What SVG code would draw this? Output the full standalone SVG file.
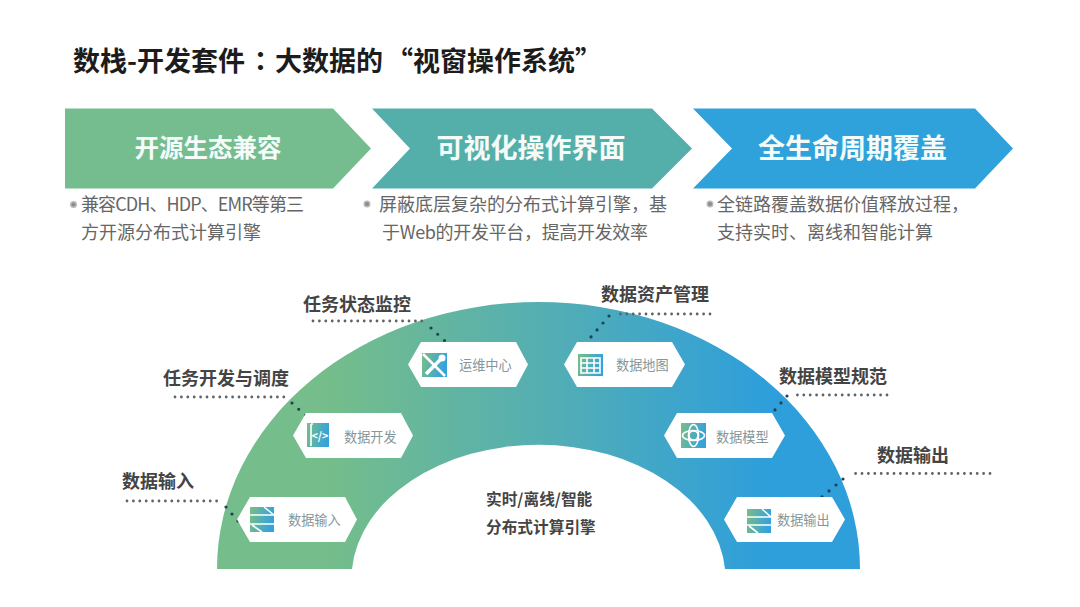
<svg xmlns="http://www.w3.org/2000/svg" width="1080" height="607" viewBox="0 0 1080 607">
<style>
text{font-family:"Noto Sans CJK SC","Noto Sans",sans-serif}
.title{font-size:27px;font-weight:700;fill:#1c1c1c}
.head{font-size:27px;font-weight:700;fill:#f4fbf8;text-anchor:middle}
.desc{font-size:18px;fill:#666}
.call{font-size:18px;font-weight:700;fill:#444}
.center{font-size:15.7px;font-weight:700;fill:#444}
.lab{font-size:13.2px;fill:#84979b}
.hex{fill:#fff}
.hd{fill:none;stroke:#5c6468;stroke-width:2.8;stroke-linecap:round;stroke-dasharray:0 6.4}
.dd{fill:none;stroke:#1d4258;stroke-width:3.2;stroke-linecap:round;stroke-dasharray:0 9.2}
.bul{fill:#8d8d8d;stroke:#bbb;stroke-width:1.400}
.ic{fill:url(#ig)}
.cut{fill:none;stroke:#fff;stroke-width:1.6}
</style>
<defs>
<linearGradient id="arc" gradientUnits="userSpaceOnUse" x1="217" y1="0" x2="860" y2="0">
<stop offset="0.17" stop-color="#75BD8A"/><stop offset="0.5" stop-color="#55AFB2"/><stop offset="0.85" stop-color="#2F9FDB"/>
</linearGradient>
<linearGradient id="ig" x1="0" y1="0" x2="1" y2="0.2">
<stop offset="0" stop-color="#79BE86"/><stop offset="1" stop-color="#35A2DB"/>
</linearGradient>
</defs>

<text class="title" x="73" y="71">数栈-开发套件<tspan x="247" style="font-family:'Noto Sans CJK TC',sans-serif">：</tspan><tspan x="275">大数据的</tspan><tspan x="386">“视窗操作系统”</tspan></text>

<g id="banner-1">
<polygon points="65,108.500 333,108.500 371,148.500 333,188.500 65,188.500" fill="#75BD8F"/>
<text class="head" x="208" y="157" style="font-size:24.500px">开源生态兼容</text>
<circle class="bul" cx="73.500" cy="204.500" r="2.800"/>
<text class="desc" x="81" y="211" textLength="223">兼容CDH、HDP、EMR等第三</text>
<text class="desc" x="81" y="239">方开源分布式计算引擎</text>
</g>
<g id="banner-2">
<polygon points="372,108.500 652,108.500 692,148.500 652,188.500 372,188.500 410,148.500" fill="#54AFAB"/>
<text class="head" x="531" y="158">可视化操作界面</text>
<circle class="bul" cx="367" cy="204" r="2.800"/>
<text class="desc" x="379" y="211">屏蔽底层复杂的分布式计算引擎，基</text>
<text class="desc" x="382" y="239" textLength="266">于Web的开发平台，提高开发效率</text>
</g>
<g id="banner-3">
<polygon points="693,108.500 975,108.500 1013,148.500 975,188.500 693,188.500 732,148.500" fill="#2FA2DC"/>
<text class="head" x="852.500" y="158">全生命周期覆盖</text>
<circle class="bul" cx="710" cy="204" r="2.800"/>
<text class="desc" x="717" y="211">全链路覆盖数据价值释放过程，</text>
<text class="desc" x="717" y="239">支持实时、离线和智能计算</text>
</g>

<g id="arch">
<path d="M217,569 A321.500,267 0 0 1 860,569 L725,569 A187,134 0 0 0 352,569 Z" fill="url(#arc)"/>
<text class="center" x="486" y="505">实时/离线/智能</text>
<text class="center" x="486" y="533">分布式计算引擎</text>
</g>

<g id="connectors">
<path class="hd" d="M127,501 H220"/>
<path class="dd" d="M226,507 L238,521"/>
<path class="hd" d="M175,397 H285"/>
<path class="dd" d="M292,403 L306,416"/>
<path class="hd" d="M313,321 H425"/>
<path class="dd" d="M431,328 L445,341"/>
<path class="hd" d="M710,314 H617"/>
<path class="dd" d="M609,316 L591,337"/>
<path class="hd" d="M887,395 H793"/>
<path class="dd" d="M787,396 L768,418"/>
<path class="hd" d="M990,473.500 H850"/>
<path class="dd" d="M843,479 L822,497"/>
</g>

<g id="node-input">
<polygon class="hex" points="250,497 345,497 357,519.500 345,542 250,542 237,519.500"/>
<rect class="ic" x="250" y="507" width="24" height="25"/>
<path class="cut" d="M250,515 H274 M250,524 H274 M264,507 L274,515 M252,525 L262,532"/>
<text class="lab" x="288" y="525">数据输入</text>
<text class="call" x="122" y="488">数据输入</text>
</g>
<g id="node-dev">
<polygon class="hex" points="306,413 401,413 413,435.500 401,458 306,458 293,435.500"/>
<rect class="ic" x="307" y="423" width="22" height="24"/>
<path class="cut" d="M311,424 H313 M311,424 V446"/>
<text x="320" y="440" text-anchor="middle" style="font-size:11px;font-weight:700;fill:#fff">&lt;/&gt;</text>
<text class="lab" x="344" y="442">数据开发</text>
<text class="call" x="163" y="385">任务开发与调度</text>
</g>
<g id="node-ops">
<polygon class="hex" points="421,342 516,342 528,364.500 516,387 421,387 408,364.500"/>
<rect class="ic" x="422" y="353" width="25" height="24"/>
<path d="M423,354 L445,376" fill="none" stroke="#fff" stroke-width="2.500"/>
<path d="M426,374 L440,360" fill="none" stroke="#fff" stroke-width="3.500"/>
<circle cx="442" cy="358" r="3.500" fill="#fff"/>
<text class="lab" x="459" y="370">运维中心</text>
<text class="call" x="303" y="311">任务状态监控</text>
</g>
<g id="node-map">
<polygon class="hex" points="577,342 672,342 685,364.500 672,387 577,387 564,364.500"/>
<rect class="ic" x="578" y="354" width="25" height="22"/>
<path class="cut" d="M581,358 H600 V373 H581 Z M581,363 H600 M581,368 H600 M587,358 V373 M594,358 V373"/>
<text class="lab" x="616" y="370">数据地图</text>
<text class="call" x="601" y="301">数据资产管理</text>
</g>
<g id="node-model">
<polygon class="hex" points="677,413 772,413 785,435.500 772,458 677,458 664,435.500"/>
<rect class="ic" x="681" y="423" width="25" height="25"/>
<circle class="cut" cx="693.500" cy="435.500" r="4.500"/>
<ellipse class="cut" cx="693.500" cy="435.500" rx="11" ry="5"/>
<ellipse class="cut" cx="693.500" cy="435.500" rx="5" ry="11"/>
<text class="lab" x="716" y="442">数据模型</text>
<text class="call" x="779" y="383">数据模型规范</text>
</g>
<g id="node-output">
<polygon class="hex" points="737,497 832,497 845,519.500 832,542 737,542 724,519.500"/>
<rect class="ic" x="747" y="509" width="24" height="24"/>
<path class="cut" d="M747,517 H771 M747,525 H771 M762,509 L771,517 M749,526 L758,533"/>
<text class="lab" x="777" y="525">数据输出</text>
<text class="call" x="877" y="462">数据输出</text>
</g>
</svg>
